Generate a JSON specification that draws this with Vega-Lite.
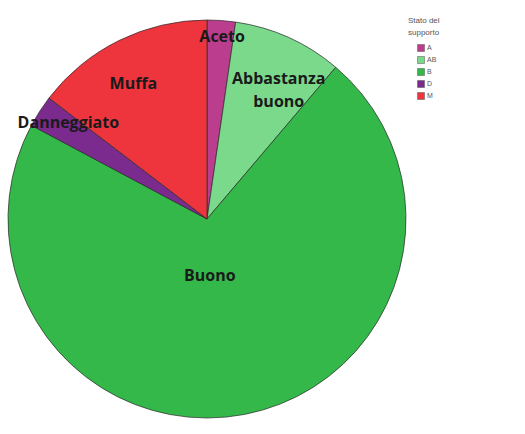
{
  "$schema": "https://vega.github.io/schema/vega-lite/v6.json",
  "autosize": {"type": "none"},
  "width": 398,
  "height": 398,
  "padding": {"left": 8, "top": 20, "right": 119, "bottom": 16},
  "background": "white",
  "config": {"view": {"stroke": null}},
  "data": {
    "values": [
      {"cat": "A", "label": "Aceto", "value": 2.3},
      {"cat": "AB", "label": "Abbastanza buono", "value": 8.9},
      {"cat": "B", "label": "Buono", "value": 71.6},
      {"cat": "D", "label": "Danneggiato", "value": 2.6},
      {"cat": "M", "label": "Muffa", "value": 14.6}
    ]
  },
  "encoding": {
    "theta": {"field": "value", "type": "quantitative", "stack": true},
    "order": {"field": "cat", "type": "nominal", "sort": "ascending"}
  },
  "layer": [
    {
      "mark": {"type": "arc", "stroke": "#2a2a2a", "strokeWidth": 0.7},
      "encoding": {
        "color": {
          "field": "cat",
          "type": "nominal",
          "scale": {"domain": ["A", "AB", "B", "D", "M"], "range": ["#bb3d8e", "#7ad98b", "#35b84a", "#7b2a8e", "#ee353d"]},
          "legend": {
            "title": ["Stato del", "supporto"],
            "orient": "none",
            "legendX": 400,
            "legendY": -3,
            "titleFontSize": 8,
            "titleLineHeight": 12,
            "titlePadding": 7,
            "titleFontWeight": "normal",
            "titleColor": "#555",
            "titleFont": "Liberation Sans",
            "labelFontSize": 7,
            "labelColor": "#555",
            "labelFont": "Liberation Sans",
            "symbolType": "square",
            "symbolSize": 49,
            "symbolOffset": 9,
            "symbolStrokeColor": "#555",
            "symbolStrokeWidth": 0.5,
            "rowPadding": 2,
            "labelOffset": 2,
            "padding": 0,
            "offset": 0
          }
        }
      }
    },
    {
      "mark": {"type": "text", "radius": 182, "dx": 2, "font": "Open Sans", "fontWeight": "bold", "fontSize": 16, "color": "#1a1a1a"},
      "encoding": {"text": {"condition": {"test": "datum.cat === 'A'", "field": "label"}, "value": ""}, "detail": {"field": "cat"}}
    },
    {
      "mark": {"type": "text", "radius": 150, "dx": 10, "dy": -3, "font": "Open Sans", "fontWeight": "bold", "fontSize": 16, "color": "#1a1a1a", "lineBreak": " ", "lineHeight": 23},
      "encoding": {"text": {"condition": {"test": "datum.cat === 'AB'", "field": "label"}, "value": ""}, "detail": {"field": "cat"}}
    },
    {
      "mark": {"type": "text", "radius": 58, "dx": -8, "font": "Open Sans", "fontWeight": "bold", "fontSize": 16, "color": "#1a1a1a"},
      "encoding": {"text": {"condition": {"test": "datum.cat === 'B'", "field": "label"}, "value": ""}, "detail": {"field": "cat"}}
    },
    {
      "mark": {"type": "text", "radius": 172, "dx": 6, "dy": -3, "font": "Open Sans", "fontWeight": "bold", "fontSize": 16, "color": "#1a1a1a"},
      "encoding": {"text": {"condition": {"test": "datum.cat === 'D'", "field": "label"}, "value": ""}, "detail": {"field": "cat"}}
    },
    {
      "mark": {"type": "text", "radius": 155, "dx": -5, "dy": 4, "font": "Open Sans", "fontWeight": "bold", "fontSize": 16, "color": "#1a1a1a"},
      "encoding": {"text": {"condition": {"test": "datum.cat === 'M'", "field": "label"}, "value": ""}, "detail": {"field": "cat"}}
    }
  ]
}
